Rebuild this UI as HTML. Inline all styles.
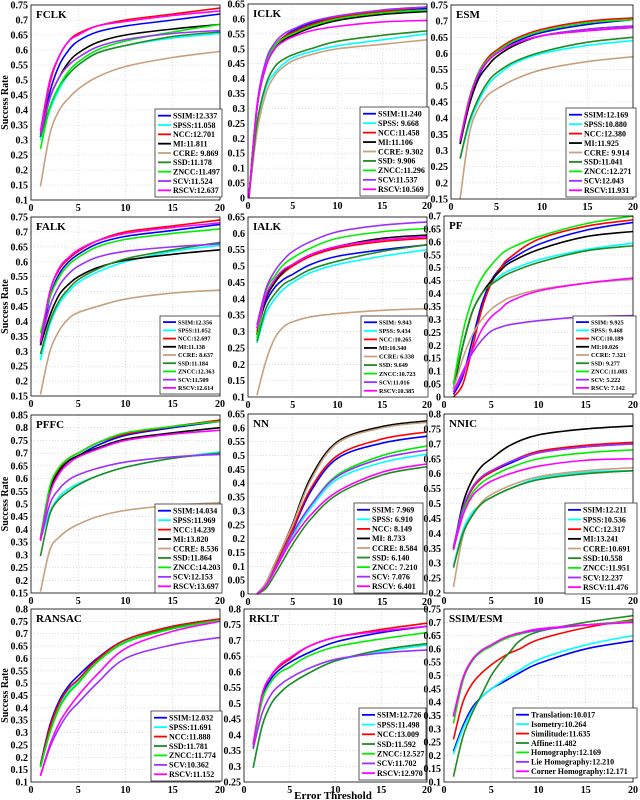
<!DOCTYPE html>
<html><head><meta charset="utf-8"><style>
html,body{margin:0;padding:0;background:#fff;}
svg{display:block;font-family:"Liberation Serif",serif;font-weight:bold;}
</style></head><body>
<svg id="chart" width="640" height="800" viewBox="0 0 640 800" xmlns="http://www.w3.org/2000/svg"></svg>
<script>
// ---- data ----
const COLORS = {SSIM:"#0000ff",SPSS:"#00ffff",NCC:"#ff0000",MI:"#000000",CCRE:"#c8a07e",SSD:"#218a21",ZNCC:"#00ee00",SCV:"#9b30ff",RSCV:"#ff00ff",
 Translation:"#0000ff",Isometry:"#00ffff",Similitude:"#ff0000",Affine:"#218a21",Homography:"#00ee00","Lie Homography":"#9b30ff","Corner Homography":"#ff00ff"};
const X9 = [1,2,3,4,5,7,10,15,20];
const X_ICLK = [0.1,1,2,3,4,5,7,10,15,20];
const X_PF = [1,2,3,4,5,6,7,10,15,20];
const X_SE = [1,2,3,4,5,6,7,8,10,15,20];

const FCLK = {SSIM:[.31,.46,.55,.60,.63,.66,.68,.70,.72],SPSS:[.30,.40,.47,.52,.55,.59,.615,.64,.655],NCC:[.32,.49,.58,.63,.655,.68,.70,.72,.74],MI:[.31,.44,.51,.56,.59,.625,.65,.67,.685],CCRE:[.145,.32,.40,.44,.47,.51,.545,.575,.595],SSD:[.31,.41,.48,.52,.55,.59,.615,.645,.66],ZNCC:[.27,.41,.48,.53,.56,.60,.63,.66,.685],SCV:[.32,.44,.51,.55,.575,.61,.635,.655,.665],RSCV:[.33,.50,.58,.63,.65,.68,.695,.715,.73]};
const FCLK_LEG = ["SSIM:12.337","SPSS:11.058","NCC:12.701","MI:11.811","CCRE: 9.869","SSD:11.178","ZNCC:11.497","SCV:11.524","RSCV:12.637"];
const ICLK = {SSIM:[0,.30,.45,.51,.54,.56,.585,.605,.625,.635],SPSS:[0,.24,.37,.42,.45,.47,.49,.51,.53,.55],NCC:[0,.30,.45,.51,.54,.555,.58,.605,.625,.64],MI:[0,.30,.44,.50,.53,.545,.57,.595,.615,.625],CCRE:[0,.22,.35,.41,.44,.46,.48,.50,.515,.53],SSD:[0,.25,.38,.44,.465,.48,.50,.525,.545,.56],ZNCC:[0,.30,.45,.51,.535,.55,.575,.60,.62,.63],SCV:[0,.31,.46,.52,.55,.565,.59,.61,.63,.64],RSCV:[0,.30,.44,.50,.525,.54,.56,.575,.59,.595]};
const ICLK_LEG = ["SSIM:11.240","SPSS: 9.668","NCC:11.458","MI:11.106","CCRE: 9.302","SSD: 9.906","ZNCC:11.296","SCV:11.537","RSCV:10.569"];
const ESM = {SSIM:[.32,.45,.53,.575,.60,.635,.665,.69,.705],SPSS:[.275,.38,.45,.50,.53,.57,.60,.625,.64],NCC:[.33,.46,.54,.585,.61,.645,.675,.70,.71],MI:[.32,.44,.52,.56,.59,.625,.655,.675,.685],CCRE:[.15,.35,.43,.47,.49,.52,.55,.575,.59],SSD:[.275,.39,.46,.51,.54,.575,.605,.635,.65],ZNCC:[.33,.46,.54,.58,.605,.64,.67,.695,.705],SCV:[.33,.455,.535,.575,.60,.63,.655,.675,.685],RSCV:[.33,.455,.535,.575,.60,.63,.655,.67,.68]};
const ESM_LEG = ["SSIM:12.169","SPSS:10.880","NCC:12.380","MI:11.925","CCRE: 9.914","SSD:11.041","ZNCC:12.271","SCV:12.043","RSCV:11.931"];
const FALK = {SSIM:[.32,.48,.56,.60,.625,.66,.685,.705,.725],SPSS:[.27,.39,.46,.50,.53,.565,.60,.635,.655],NCC:[.33,.50,.575,.61,.635,.67,.70,.72,.74],MI:[.32,.42,.49,.525,.55,.58,.605,.625,.64],CCRE:[.155,.30,.37,.41,.43,.45,.475,.495,.505],SSD:[.29,.40,.47,.51,.54,.575,.61,.64,.665],ZNCC:[.36,.48,.55,.59,.615,.65,.675,.695,.71],SCV:[.33,.45,.52,.56,.585,.615,.635,.65,.66],RSCV:[.33,.50,.58,.615,.64,.67,.695,.715,.73]};
const FALK_LEG = ["SSIM:12.356","SPSS:11.052","NCC:12.697","MI:11.138","CCRE: 8.637","SSD:11.184","ZNCC:12.363","SCV:11.509","RSCV:12.614"];
const IALK = {SSIM:[.31,.39,.435,.46,.475,.505,.53,.55,.565],SPSS:[.265,.355,.40,.43,.45,.48,.505,.53,.55],NCC:[.30,.40,.45,.48,.50,.53,.555,.575,.585],MI:[.29,.40,.45,.485,.505,.535,.56,.585,.595],CCRE:[.105,.21,.28,.315,.33,.345,.355,.365,.37],SSD:[.27,.37,.415,.445,.46,.49,.515,.545,.565],ZNCC:[.28,.42,.47,.505,.525,.555,.585,.605,.615],SCV:[.32,.43,.485,.52,.545,.575,.605,.625,.635],RSCV:[.31,.41,.46,.49,.505,.535,.56,.58,.59]};
const IALK_LEG = ["SSIM: 9.943","SPSS: 9.434","NCC:10.265","MI:10.340","CCRE: 6.338","SSD: 9.649","ZNCC:10.723","SCV:11.016","RSCV:10.385"];
const PF = {SSIM:[.01,.08,.22,.36,.45,.50,.53,.59,.645,.675],SPSS:[.05,.20,.33,.40,.44,.47,.49,.53,.57,.595],NCC:[0,.05,.19,.34,.44,.50,.54,.61,.66,.685],MI:[.03,.20,.33,.40,.45,.49,.52,.57,.62,.64],CCRE:[.03,.15,.24,.30,.34,.365,.385,.415,.44,.455],SSD:[.05,.20,.33,.40,.435,.46,.48,.52,.565,.585],ZNCC:[.05,.25,.38,.46,.51,.55,.575,.62,.67,.70],SCV:[.02,.10,.17,.22,.255,.27,.28,.295,.31,.315],RSCV:[.02,.09,.18,.26,.31,.34,.37,.41,.44,.46]};
const PF_LEG = ["SSIM: 9.925","SPSS: 9.468","NCC:10.189","MI:10.026","CCRE: 7.321","SSD: 9.277","ZNCC:11.083","SCV: 5.222","RSCV: 7.142"];
const PFFC = {SSIM:[.36,.55,.63,.67,.69,.73,.77,.80,.825],SPSS:[.36,.47,.53,.56,.58,.61,.645,.68,.705],NCC:[.36,.56,.64,.68,.70,.74,.775,.805,.83],MI:[.36,.55,.63,.67,.69,.72,.755,.78,.80],CCRE:[.155,.32,.37,.40,.42,.45,.475,.495,.505],SSD:[.295,.46,.52,.55,.575,.61,.645,.68,.70],ZNCC:[.37,.57,.645,.68,.70,.74,.78,.805,.825],SCV:[.355,.50,.56,.595,.615,.64,.665,.685,.695],RSCV:[.36,.54,.62,.66,.685,.715,.75,.775,.79]};
const PFFC_LEG = ["SSIM:14.034","SPSS:11.969","NCC:14.239","MI:13.820","CCRE: 8.536","SSD:11.864","ZNCC:14.203","SCV:12.153","RSCV:13.697"];
const NN = {SSIM:[0,.035,.10,.17,.23,.37,.49,.545,.57],SPSS:[0,.03,.09,.15,.21,.31,.415,.475,.505],NCC:[0,.035,.10,.17,.235,.38,.50,.56,.585],MI:[0,.04,.11,.18,.255,.42,.55,.605,.625],CCRE:[0,.04,.11,.18,.25,.41,.545,.60,.62],SSD:[0,.02,.07,.125,.18,.27,.36,.43,.46],ZNCC:[0,.03,.09,.155,.22,.32,.43,.50,.535],SCV:[0,.03,.09,.155,.22,.32,.425,.49,.52],RSCV:[0,.03,.085,.145,.20,.285,.37,.44,.47]};
const NN_LEG = ["SSIM: 7.969","SPSS: 6.910","NCC: 8.149","MI: 8.733","CCRE: 8.584","SSD: 6.140","ZNCC: 7.210","SCV: 7.076","RSCV: 6.401"];
const NNIC = {SSIM:[.35,.48,.55,.585,.605,.635,.67,.69,.70],SPSS:[.29,.41,.47,.50,.52,.55,.585,.605,.61],NCC:[.35,.48,.55,.585,.605,.64,.675,.695,.705],MI:[.345,.50,.58,.625,.65,.695,.73,.75,.76],CCRE:[.22,.39,.46,.505,.53,.56,.59,.61,.62],SSD:[.285,.40,.46,.50,.52,.55,.58,.60,.61],ZNCC:[.345,.47,.535,.57,.59,.62,.65,.67,.68],SCV:[.355,.485,.555,.59,.61,.64,.67,.69,.70],RSCV:[.345,.46,.525,.555,.575,.60,.625,.645,.65]};
const NNIC_LEG = ["SSIM:12.211","SPSS:10.536","NCC:12.317","MI:13.241","CCRE:10.691","SSD:10.558","ZNCC:11.951","SCV:12.237","RSCV:11.476"];
const RANSAC = {SSIM:[.17,.33,.43,.49,.53,.60,.675,.73,.76],SPSS:[.16,.31,.41,.47,.51,.59,.67,.725,.755],NCC:[.165,.32,.42,.48,.515,.595,.675,.73,.76],SSD:[.16,.30,.40,.46,.50,.585,.665,.725,.755],ZNCC:[.16,.30,.40,.46,.50,.585,.665,.72,.755],SCV:[.125,.24,.32,.38,.42,.50,.60,.655,.685],RSCV:[.125,.25,.34,.40,.45,.535,.64,.71,.75]};
const RANSAC_LEG = ["SSIM:12.032","SPSS:11.691","NCC:11.888","SSD:11.781","ZNCC:11.774","SCV:10.362","RSCV:11.152"];
const RKLT = {SSIM:[.36,.52,.58,.61,.63,.66,.695,.725,.745],SPSS:[.295,.43,.50,.535,.56,.595,.635,.665,.685],NCC:[.37,.53,.59,.62,.64,.68,.71,.735,.755],SSD:[.295,.43,.50,.535,.56,.595,.635,.67,.69],ZNCC:[.36,.51,.57,.60,.615,.65,.68,.705,.725],SCV:[.355,.47,.53,.56,.58,.61,.64,.66,.67],RSCV:[.37,.53,.59,.625,.645,.68,.71,.73,.745]};
const RKLT_LEG = ["SSIM:12.726","SPSS:11.498","NCC:13.009","SSD:11.592","ZNCC:12.527","SCV:11.702","RSCV:12.970"];
const SSIMESM = {"Translation":[.215,.31,.38,.42,.45,.47,.49,.51,.545,.60,.63],"Isometry":[.205,.30,.37,.42,.45,.475,.50,.52,.56,.615,.65],"Similitude":[.26,.40,.47,.51,.54,.565,.585,.60,.635,.68,.71],"Affine":[.12,.27,.36,.43,.50,.55,.59,.63,.665,.70,.725],"Homography":[.32,.48,.555,.59,.61,.63,.645,.655,.67,.69,.705],"Lie Homography":[.345,.49,.56,.595,.615,.635,.65,.66,.67,.69,.70],"Corner Homography":[.35,.49,.56,.595,.615,.635,.65,.66,.675,.69,.70]};
const SSIMESM_LEG = ["Translation:10.017","Isometry:10.264","Similitude:11.635","Affine:11.482","Homography:12.169","Lie Homography:12.210","Corner Homography:12.171"];

// ---- layout ----
const PANELS = [
 {t:"FCLK",d:FCLK,leg:FCLK_LEG,xs:X9,l:31,r:220,top:5,bot:200,ymin:.1,ymax:.75,lg:[155,109,67,88],fs:8,yl:true},
 {t:"ICLK",d:ICLK,leg:ICLK_LEG,xs:X_ICLK,l:248,r:427,top:4,bot:198,ymin:0,ymax:.65,lg:[360,107,69,89],fs:8},
 {t:"ESM",d:ESM,leg:ESM_LEG,xs:X9,l:451,r:633,top:5,bot:199,ymin:.15,ymax:.75,lg:[566,108,70,89],fs:8},
 {t:"FALK",d:FALK,leg:FALK_LEG,xs:X9,l:31,r:220,top:217,bot:396,ymin:.15,ymax:.75,lg:[160,316,60,78],fs:6.2,yl:true},
 {t:"IALK",d:IALK,leg:IALK_LEG,xs:X9,l:248,r:427,top:217,bot:397,ymin:.1,ymax:.65,lg:[361,316,67,81],fs:6.2},
 {t:"PF",d:PF,leg:PF_LEG,xs:X_PF,l:444,r:633,top:216,bot:397,ymin:0,ymax:.7,lg:[573,316,63,78],fs:6.2},
 {t:"PFFC",d:PFFC,leg:PFFC_LEG,xs:X9,l:31,r:220,top:415,bot:593,ymin:.15,ymax:.85,lg:[155,504,67,89],fs:8,yl:true},
 {t:"NN",d:NN,leg:NN_LEG,xs:X9,l:248,r:427,top:414,bot:594,ymin:0,ymax:.65,lg:[354,503,69,90],fs:8},
 {t:"NNIC",d:NNIC,leg:NNIC_LEG,xs:X9,l:444,r:633,top:414,bot:593,ymin:.2,ymax:.8,lg:[565,503,72,91],fs:8},
 {t:"RANSAC",d:RANSAC,leg:RANSAC_LEG,xs:X9,l:31,r:220,top:609,bot:782,ymin:.1,ymax:.8,lg:[151,711,71,70],fs:8,yl:true},
 {t:"RKLT",d:RKLT,leg:RKLT_LEG,xs:X9,l:244,r:427,top:609,bot:782,ymin:.25,ymax:.8,lg:[359,708,67,72],fs:8},
 {t:"SSIM/ESM",d:SSIMESM,leg:SSIMESM_LEG,xs:X_SE,l:444,r:633,top:609,bot:782,ymin:.1,ymax:.75,lg:[513,708,124,70],fs:8}
];

const NS="http://www.w3.org/2000/svg";
const svg=document.getElementById('chart');
function mk(tag,attrs,parent){const e=document.createElementNS(NS,tag);for(const k in attrs)e.setAttribute(k,attrs[k]);(parent||svg).appendChild(e);return e;}
function smooth(pts){let d="M"+pts[0][0].toFixed(2)+","+pts[0][1].toFixed(2);
 for(let i=0;i<pts.length-1;i++){const p0=pts[i-1]||pts[i],p1=pts[i],p2=pts[i+1],p3=pts[i+2]||p2;
  const c1=[p1[0]+(p2[0]-p0[0])/6,p1[1]+(p2[1]-p0[1])/6],c2=[p2[0]-(p3[0]-p1[0])/6,p2[1]-(p3[1]-p1[1])/6];
  d+=" C"+c1[0].toFixed(2)+","+c1[1].toFixed(2)+" "+c2[0].toFixed(2)+","+c2[1].toFixed(2)+" "+p2[0].toFixed(2)+","+p2[1].toFixed(2);}
 return d;}

PANELS.forEach(function(p){
 const slug=p.t.toLowerCase().replace('/','-');
 const g=mk('g',{});
 
 
 const xS=v=>p.l+(v/20)*(p.r-p.l);
 const yS=v=>p.bot-(v-p.ymin)/(p.ymax-p.ymin)*(p.bot-p.top);
 mk('rect',{x:p.l,y:p.top,width:p.r-p.l,height:p.bot-p.top,fill:'#fff',stroke:'none'},g);
 const nY=Math.round((p.ymax-p.ymin)/0.05);
 for(let i=0;i<=nY;i++){const v=p.ymin+i*0.05,y=yS(v);
  if(i>0&&i<nY)mk('line',{x1:p.l,x2:p.r,y1:y,y2:y,stroke:'#c8c8c8','stroke-width':0.6,'stroke-dasharray':'1,2'},g);
  const t=mk('text',{x:p.l-3,y:y+3.5,'font-size':10,'text-anchor':'end',fill:'#000'},g);
  
  
  let s=(Math.round(v*100)/100).toString();t.textContent=s;}
 [0,5,10,15,20].forEach(function(v){const x=xS(v);
  if(v>0&&v<20)mk('line',{x1:x,x2:x,y1:p.top,y2:p.bot,stroke:'#c8c8c8','stroke-width':0.6,'stroke-dasharray':'1,2'},g);
  const t=mk('text',{x:x,y:p.bot+11,'font-size':10,'text-anchor':'middle',fill:'#000'},g);
  
  
  t.textContent=v;});
 Object.keys(p.d).forEach(function(k){
  const pts=p.d[k].map((v,i)=>[xS(p.xs[i]),yS(v)]);
  const path=mk('path',{d:smooth(pts),fill:'none',stroke:COLORS[k],'stroke-width':1.6},g);
  
  });
 mk('rect',{x:p.l,y:p.top,width:p.r-p.l,height:p.bot-p.top,fill:'none',stroke:'#000','stroke-width':0.8},g);
 const tt=mk('text',{x:p.l+5,y:p.top+13,'font-size':11,fill:'#000'},g);
 
 
 tt.textContent=p.t;
 const [lx,ly,lw,lh]=p.lg;
 const lg=mk('g',{},g);
 
 
 mk('rect',{x:lx,y:ly,width:lw,height:lh,fill:'#fff',stroke:'#333','stroke-width':0.8},lg);
 const keys=Object.keys(p.d),n=keys.length,step=(lh-4)/n;
 keys.forEach(function(k,i){const cy=ly+2+step*(i+0.5);
  mk('line',{x1:lx+3,x2:lx+16,y1:cy,y2:cy,stroke:COLORS[k],'stroke-width':1.8},lg);
  const t=mk('text',{x:lx+18,y:cy+p.fs*0.35,'font-size':p.fs,fill:'#000'},lg);
  
  
  t.textContent=p.leg[i];});
 if(p.yl){const yt=mk('text',{x:0,y:0,'font-size':10,'text-anchor':'middle',fill:'#000',transform:'translate(8,'+((p.top+p.bot)/2)+') rotate(-90)'},g);
  
  
  yt.textContent='Success Rate';}
});
const xt=mk('text',{x:333,y:799,'font-size':11,'text-anchor':'middle',fill:'#000'});


xt.textContent='Error Threshold';
</script>
</body></html>
